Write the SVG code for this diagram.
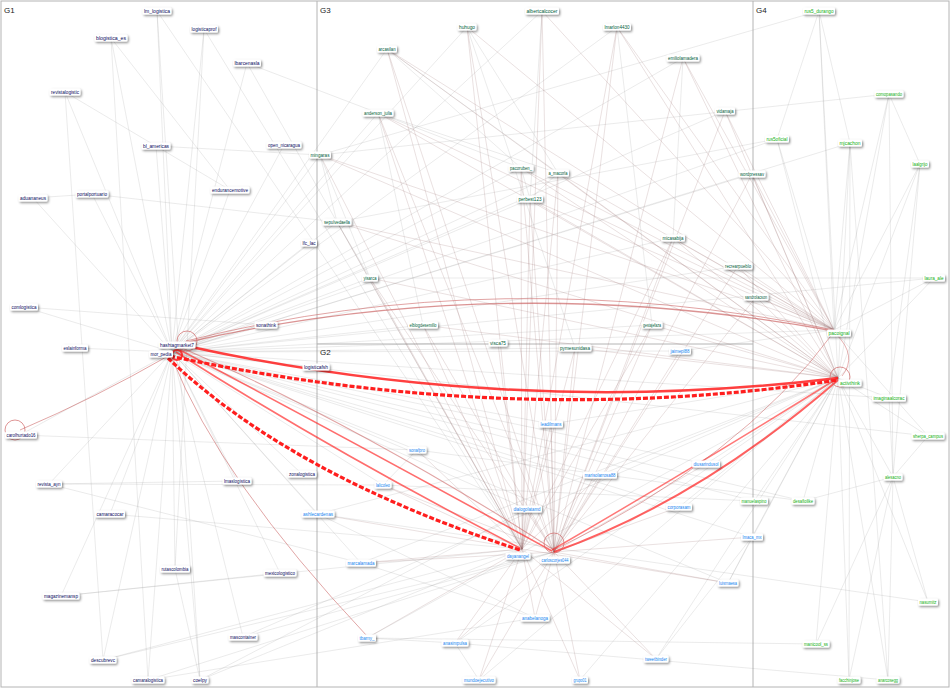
<svg xmlns="http://www.w3.org/2000/svg" width="950" height="688" viewBox="0 0 950 688">
<defs>
<filter id="sh" x="-30%" y="-60%" width="160%" height="240%"><feDropShadow dx="1.2" dy="1.4" stdDeviation="0.9" flood-color="#000" flood-opacity="0.45"/></filter>
</defs>
<style>
.frame{fill:none;stroke:#b4b4b4;stroke-width:1}
.gt{font-family:"Liberation Sans",Arial,sans-serif;font-size:8px;fill:#222}
.e path{fill:none;stroke:#9a9a9a;stroke-opacity:.36;stroke-width:.55}
.r path{fill:none;stroke:#9c7070;stroke-opacity:.36;stroke-width:.6}
.red{fill:none;stroke:#ff1e1e}
.pink{fill:none;stroke:#c85a5a}
.loop{fill:none;stroke:#d06868;stroke-opacity:.7;stroke-width:1}
.n rect{fill:#fff;filter:url(#sh)}
.n text{font-family:"Liberation Sans",Arial,sans-serif;font-size:4.6px;text-anchor:middle}
.g1 text{fill:#0b0b5e}
.g2 text{fill:#1585f0}
.g3 text{fill:#00603a}
.g4 text{fill:#12b012}
</style>
<rect width="950" height="688" fill="#fff"/>
<g id="frames">
<rect class="frame" x="1" y="1" width="948" height="686"/>
<path class="frame" d="M317 1V687M753 1V687M317 344H753"/>
</g>
<g id="connectors">
<g class="e">
<path d="M172 352L157 11"/><path d="M172 352L204 29"/><path d="M172 352L111 38"/><path d="M172 352L247 63"/><path d="M172 352L65 92"/><path d="M172 352L156 146"/><path d="M172 352L284 145"/><path d="M172 352L33 198"/><path d="M172 352L92 194"/><path d="M172 352L230 190"/><path d="M172 352L309 243"/><path d="M172 352L24 307"/><path d="M172 352L75 348"/><path d="M172 352L266 325"/><path d="M172 352L316 367"/><path d="M172 352L20 435"/><path d="M172 352L49 484"/><path d="M172 352L110 514"/><path d="M172 352L237 481"/><path d="M172 352L302 474"/><path d="M172 352L175 569"/><path d="M172 352L280 573"/><path d="M172 352L61 596"/><path d="M172 352L243 637"/><path d="M172 352L103 660"/><path d="M172 352L148 680"/><path d="M172 352L200 680"/>
<path d="M157 11L522 549"/><path d="M204 29L522 549"/><path d="M247 63L522 549"/><path d="M65 92L230 190"/><path d="M247 63L378 113"/><path d="M156 146L320 155"/><path d="M92 194L337 222"/><path d="M49 484L383 485"/><path d="M49 484L361 563"/><path d="M110 514L522 549"/><path d="M61 596L522 549"/><path d="M103 660L522 549"/><path d="M103 660L554 552"/><path d="M148 680L535 618"/><path d="M148 680L554 552"/><path d="M200 680L522 549"/><path d="M200 680L527 509"/><path d="M243 637L554 552"/><path d="M243 637L838 378"/><path d="M175 569L200 680"/><path d="M24 307L266 325"/><path d="M20 435L417 450"/><path d="M33 198L92 194"/><path d="M111 38L230 190"/><path d="M65 92L103 660"/><path d="M111 38L148 680"/><path d="M157 11L200 680"/><path d="M204 29L175 569"/><path d="M280 573L61 596"/><path d="M49 484L237 481"/>
<path d="M172 352L542 11"/><path d="M172 352L467 27"/><path d="M172 352L617 27"/><path d="M172 352L387 49"/><path d="M172 352L683 58"/><path d="M172 352L378 113"/><path d="M172 352L725 111"/><path d="M172 352L320 155"/><path d="M172 352L521 168"/><path d="M172 352L558 173"/><path d="M172 352L752 174"/><path d="M172 352L530 199"/><path d="M172 352L337 222"/><path d="M172 352L673 238"/><path d="M172 352L738 266"/><path d="M172 352L370 278"/><path d="M172 352L423 325"/><path d="M172 352L652 325"/><path d="M172 352L575 348"/>
<path d="M172 352L777 139"/><path d="M172 352L850 143"/><path d="M172 352L934 278"/><path d="M172 352L889 398"/><path d="M172 352L754 501"/><path d="M172 352L803 501"/><path d="M172 352L928 436"/><path d="M172 352L834 330"/>
<path d="M172 352L551 424"/><path d="M172 352L417 450"/><path d="M172 352L383 485"/><path d="M172 352L600 475"/><path d="M172 352L706 464"/><path d="M172 352L527 509"/><path d="M172 352L679 507"/><path d="M172 352L318 514"/><path d="M172 352L361 563"/><path d="M172 352L752 537"/><path d="M172 352L680 351"/><path d="M172 352L728 583"/>
<path d="M387 49L558 173"/><path d="M378 113L558 173"/><path d="M378 113L521 168"/><path d="M467 27L558 173"/><path d="M542 11L530 199"/><path d="M320 155L337 222"/><path d="M521 168L530 199"/><path d="M558 173L530 199"/><path d="M467 27L575 348"/><path d="M683 58L673 238"/><path d="M617 27L652 325"/><path d="M387 49L521 168"/><path d="M320 155L370 278"/><path d="M337 222L370 278"/><path d="M378 113L423 325"/>
<path d="M706 464L838 378"/><path d="M679 507L838 378"/><path d="M752 537L838 378"/><path d="M728 583L838 378"/><path d="M656 659L838 378"/><path d="M600 475L838 378"/><path d="M580 680L838 378"/><path d="M479 680L838 378"/><path d="M455 643L838 378"/><path d="M367 638L838 378"/><path d="M361 563L838 378"/><path d="M318 514L838 378"/><path d="M680 351L834 330"/><path d="M551 424L838 378"/>
<path d="M318 514L535 618"/><path d="M361 563L535 618"/><path d="M367 638L455 643"/><path d="M455 643L479 680"/><path d="M656 659L752 537"/><path d="M728 583L752 537"/><path d="M417 450L383 485"/>
<path d="M819 11L838 378"/><path d="M889 94L838 378"/><path d="M777 139L838 378"/><path d="M850 143L838 378"/><path d="M920 164L838 378"/><path d="M934 278L838 378"/><path d="M889 398L838 378"/><path d="M928 436L838 378"/><path d="M893 477L838 378"/><path d="M754 501L838 378"/><path d="M803 501L838 378"/><path d="M928 602L838 378"/><path d="M816 644L838 378"/><path d="M849 680L838 378"/><path d="M888 680L838 378"/>
<path d="M819 11L834 330"/><path d="M889 94L834 330"/><path d="M777 139L834 330"/><path d="M850 143L834 330"/><path d="M920 164L834 330"/><path d="M934 278L834 330"/><path d="M928 436L834 330"/>
<path d="M893 477L928 602"/><path d="M893 477L816 644"/><path d="M893 477L849 680"/><path d="M893 477L888 680"/><path d="M889 398L893 477"/><path d="M928 436L893 477"/><path d="M803 501L893 477"/><path d="M850 143L819 11"/><path d="M777 139L819 11"/><path d="M889 94L920 164"/><path d="M920 164L889 398"/><path d="M920 164L893 477"/><path d="M889 94L893 477"/><path d="M850 143L849 680"/><path d="M850 143L888 680"/>
<path d="M819 11L320 155"/><path d="M889 94L320 155"/><path d="M777 139L337 222"/><path d="M934 278L370 278"/><path d="M754 501L383 485"/><path d="M803 501L417 450"/><path d="M928 602L318 514"/><path d="M816 644L367 638"/><path d="M888 680L455 643"/>
</g>
<g class="r">
<path d="M542 11L554 552"/><path d="M542 11L522 549"/><path d="M467 27L522 549"/><path d="M467 27L554 552"/><path d="M617 27L554 552"/><path d="M617 27L522 549"/><path d="M387 49L522 549"/><path d="M387 49L554 552"/><path d="M683 58L554 552"/><path d="M378 113L522 549"/><path d="M378 113L554 552"/><path d="M725 111L554 552"/><path d="M320 155L522 549"/><path d="M521 168L522 549"/><path d="M521 168L554 552"/><path d="M558 173L522 549"/><path d="M558 173L554 552"/><path d="M752 174L554 552"/><path d="M530 199L522 549"/><path d="M530 199L554 552"/><path d="M337 222L522 549"/><path d="M673 238L554 552"/><path d="M673 238L522 549"/><path d="M738 266L554 552"/><path d="M370 278L522 549"/><path d="M370 278L554 552"/><path d="M756 297L554 552"/><path d="M423 325L522 549"/><path d="M423 325L554 552"/><path d="M652 325L554 552"/><path d="M652 325L522 549"/><path d="M498 343L522 549"/><path d="M575 348L554 552"/><path d="M575 348L522 549"/>
<path d="M542 11L834 330"/><path d="M467 27L834 330"/><path d="M617 27L834 330"/><path d="M617 27L838 378"/><path d="M387 49L838 378"/><path d="M387 49L834 330"/><path d="M683 58L834 330"/><path d="M683 58L838 378"/><path d="M378 113L834 330"/><path d="M378 113L838 378"/><path d="M725 111L834 330"/><path d="M725 111L838 378"/><path d="M320 155L834 330"/><path d="M320 155L838 378"/><path d="M521 168L834 330"/><path d="M521 168L838 378"/><path d="M558 173L834 330"/><path d="M558 173L838 378"/><path d="M752 174L834 330"/><path d="M752 174L838 378"/><path d="M530 199L838 378"/><path d="M530 199L834 330"/><path d="M337 222L834 330"/><path d="M337 222L838 378"/><path d="M673 238L834 330"/><path d="M673 238L838 378"/><path d="M738 266L834 330"/><path d="M738 266L838 378"/><path d="M370 278L838 378"/><path d="M756 297L838 378"/><path d="M756 297L834 330"/><path d="M652 325L838 378"/><path d="M575 348L838 378"/><path d="M423 325L838 378"/>
<path d="M680 351L554 552"/><path d="M551 424L522 549"/><path d="M551 424L554 552"/><path d="M417 450L522 549"/><path d="M383 485L522 549"/><path d="M383 485L554 552"/><path d="M600 475L554 552"/><path d="M600 475L522 549"/><path d="M706 464L554 552"/><path d="M527 509L522 549"/><path d="M527 509L554 552"/><path d="M679 507L554 552"/><path d="M318 514L522 549"/><path d="M361 563L522 549"/><path d="M361 563L554 552"/><path d="M752 537L554 552"/><path d="M728 583L554 552"/><path d="M728 583L522 549"/><path d="M535 618L522 549"/><path d="M535 618L554 552"/><path d="M367 638L522 549"/><path d="M455 643L554 552"/><path d="M455 643L522 549"/><path d="M479 680L554 552"/><path d="M479 680L522 549"/><path d="M580 680L554 552"/><path d="M580 680L522 549"/><path d="M656 659L554 552"/><path d="M656 659L522 549"/>
</g>
<g id="red-edges">
<path class="pink" stroke-width="0.9" stroke-opacity="0.6" d="M168 356Q95 398 20 430"/>
<path class="pink" stroke-width="0.9" stroke-opacity="0.6" d="M172 358Q220 480 367 636"/>
<path class="pink" stroke-width="1.4" stroke-opacity="0.65" d="M184 343Q500 270 834 331"/>
<path class="pink" stroke-width="1" stroke-opacity="0.55" d="M186 341Q500 262 834 330"/>
<path class="pink" stroke-width="1.1" stroke-opacity="0.55" d="M182 348Q360 425 554 550"/>
<path class="red" stroke-width="1.6" stroke-opacity="0.65" d="M180 350Q350 440 552 551"/>
<path class="red" stroke-width="1.6" stroke-opacity="0.65" d="M176 352Q330 450 520 548"/>
<path class="red" stroke-width="3.2" stroke-dasharray="5 2" d="M168 358Q290 475 520 550"/>
<path class="red" stroke-width="2.5" stroke-opacity="0.85" d="M182 345Q512 418 838 378"/>
<path class="red" stroke-width="3.2" stroke-dasharray="5 2" d="M170 356Q512 429 838 380"/>
<path class="red" stroke-width="2" stroke-opacity="0.7" d="M554 552Q700 500 838 380"/>
<path class="red" stroke-width="1.5" stroke-opacity="0.6" d="M552 550Q690 470 838 378"/>
<path class="pink" stroke-width="1" stroke-opacity="0.5" d="M834 332Q740 460 554 550"/>
<path class="pink" stroke-width="0.8" stroke-opacity="0.6" d="M836 334Q858 356 842 376"/>
</g>
<g id="self-loops">
<circle class="loop" cx="187" cy="341" r="10"/>
<circle class="loop" cx="15" cy="430" r="10"/>
<circle class="loop" cx="840" cy="377" r="10"/>
<circle class="loop" cx="554" cy="543" r="10"/>
<circle class="red" cx="177" cy="355" r="5" stroke-width="2.2" stroke-opacity="0.85"/>
</g>
</g>
<g id="nodes">
<g id="n-lm_logistica" class="n g1" transform="translate(157 11)"><rect x="-14.5" y="-3.5" width="29" height="7" rx="1.5"/><text y="1.6" textLength="26" lengthAdjust="spacingAndGlyphs">lm_logistica</text></g>
<g id="n-logisticaprof" class="n g1" transform="translate(204 29)"><rect x="-14" y="-3.5" width="28" height="7" rx="1.5"/><text y="1.6" textLength="25" lengthAdjust="spacingAndGlyphs">logisticaprof</text></g>
<g id="n-blogistica_es" class="n g1" transform="translate(111 38)"><rect x="-16.5" y="-3.5" width="33" height="7" rx="1.5"/><text y="1.6" textLength="30" lengthAdjust="spacingAndGlyphs">blogistica_es</text></g>
<g id="n-lbarcenasla" class="n g1" transform="translate(247 63)"><rect x="-14" y="-3.5" width="28" height="7" rx="1.5"/><text y="1.6" textLength="25" lengthAdjust="spacingAndGlyphs">lbarcenasla</text></g>
<g id="n-revistalogistic" class="n g1" transform="translate(65 92)"><rect x="-15.5" y="-3.5" width="31" height="7" rx="1.5"/><text y="1.6" textLength="28" lengthAdjust="spacingAndGlyphs">revistalogistic</text></g>
<g id="n-bl_americas" class="n g1" transform="translate(156 146)"><rect x="-14.5" y="-3.5" width="29" height="7" rx="1.5"/><text y="1.6" textLength="26" lengthAdjust="spacingAndGlyphs">bl_americas</text></g>
<g id="n-open_nicaragua" class="n g1" transform="translate(284 145)"><rect x="-17.5" y="-3.5" width="35" height="7" rx="1.5"/><text y="1.6" textLength="32" lengthAdjust="spacingAndGlyphs">open_nicaragua</text></g>
<g id="n-aduananeus" class="n g1" transform="translate(33 198)"><rect x="-14.5" y="-3.5" width="29" height="7" rx="1.5"/><text y="1.6" textLength="26" lengthAdjust="spacingAndGlyphs">aduananeus</text></g>
<g id="n-portalportuario" class="n g1" transform="translate(92 194)"><rect x="-16.5" y="-3.5" width="33" height="7" rx="1.5"/><text y="1.6" textLength="30" lengthAdjust="spacingAndGlyphs">portalportuario</text></g>
<g id="n-endurancemotive" class="n g1" transform="translate(230 190)"><rect x="-19.5" y="-3.5" width="39" height="7" rx="1.5"/><text y="1.6" textLength="36" lengthAdjust="spacingAndGlyphs">endurancemotive</text></g>
<g id="n-lfc_lac" class="n g1" transform="translate(309 243)"><rect x="-8" y="-3.5" width="16" height="7" rx="1.5"/><text y="1.6" textLength="13" lengthAdjust="spacingAndGlyphs">lfc_lac</text></g>
<g id="n-comlogistica" class="n g1" transform="translate(24 307)"><rect x="-14" y="-3.5" width="28" height="7" rx="1.5"/><text y="1.6" textLength="25" lengthAdjust="spacingAndGlyphs">comlogistica</text></g>
<g id="n-eslainforma" class="n g1" transform="translate(75 348)"><rect x="-13" y="-3.5" width="26" height="7" rx="1.5"/><text y="1.6" textLength="23" lengthAdjust="spacingAndGlyphs">eslainforma</text></g>
<g id="n-hashtagmarket7" class="n g1" transform="translate(177 345)"><rect x="-18.5" y="-3.5" width="37" height="7" rx="1.5"/><text y="1.6" textLength="34" lengthAdjust="spacingAndGlyphs">hashtagmarket7</text></g>
<g id="n-mor_pedia" class="n g1" transform="translate(161 354)"><rect x="-12" y="-3.5" width="24" height="7" rx="1.5"/><text y="1.6" textLength="21" lengthAdjust="spacingAndGlyphs">mor_pedia</text></g>
<g id="n-sonathink" class="n g1" transform="translate(266 325)"><rect x="-11.5" y="-3.5" width="23" height="7" rx="1.5"/><text y="1.6" textLength="20" lengthAdjust="spacingAndGlyphs">sonathink</text></g>
<g id="n-logisticafsh" class="n g1" transform="translate(316 367)"><rect x="-13.5" y="-3.5" width="27" height="7" rx="1.5"/><text y="1.6" textLength="24" lengthAdjust="spacingAndGlyphs">logisticafsh</text></g>
<g id="n-carolhurtado16" class="n g1" transform="translate(21 435)"><rect x="-16" y="-3.5" width="32" height="7" rx="1.5"/><text y="1.6" textLength="29" lengthAdjust="spacingAndGlyphs">carolhurtado16</text></g>
<g id="n-revista_ayn" class="n g1" transform="translate(49 484)"><rect x="-13" y="-3.5" width="26" height="7" rx="1.5"/><text y="1.6" textLength="23" lengthAdjust="spacingAndGlyphs">revista_ayn</text></g>
<g id="n-camaracocar" class="n g1" transform="translate(110 514)"><rect x="-15" y="-3.5" width="30" height="7" rx="1.5"/><text y="1.6" textLength="27" lengthAdjust="spacingAndGlyphs">camaracocar</text></g>
<g id="n-lmaslogistica" class="n g1" transform="translate(237 481)"><rect x="-14.5" y="-3.5" width="29" height="7" rx="1.5"/><text y="1.6" textLength="26" lengthAdjust="spacingAndGlyphs">lmaslogistica</text></g>
<g id="n-zonalogistica" class="n g1" transform="translate(302 474)"><rect x="-14.5" y="-3.5" width="29" height="7" rx="1.5"/><text y="1.6" textLength="26" lengthAdjust="spacingAndGlyphs">zonalogistica</text></g>
<g id="n-rutascolombia" class="n g1" transform="translate(175 569)"><rect x="-15" y="-3.5" width="30" height="7" rx="1.5"/><text y="1.6" textLength="27" lengthAdjust="spacingAndGlyphs">rutascolombia</text></g>
<g id="n-mexicologistico" class="n g1" transform="translate(280 573)"><rect x="-16.5" y="-3.5" width="33" height="7" rx="1.5"/><text y="1.6" textLength="30" lengthAdjust="spacingAndGlyphs">mexicologistico</text></g>
<g id="n-magazinemansp" class="n g1" transform="translate(61 596)"><rect x="-18.5" y="-3.5" width="37" height="7" rx="1.5"/><text y="1.6" textLength="34" lengthAdjust="spacingAndGlyphs">magazinemansp</text></g>
<g id="n-mascontainer" class="n g1" transform="translate(243 637)"><rect x="-14.5" y="-3.5" width="29" height="7" rx="1.5"/><text y="1.6" textLength="26" lengthAdjust="spacingAndGlyphs">mascontainer</text></g>
<g id="n-descubrevc" class="n g1" transform="translate(103 660)"><rect x="-13.5" y="-3.5" width="27" height="7" rx="1.5"/><text y="1.6" textLength="24" lengthAdjust="spacingAndGlyphs">descubrevc</text></g>
<g id="n-camaralogistica" class="n g1" transform="translate(148 680)"><rect x="-16.5" y="-3.5" width="33" height="7" rx="1.5"/><text y="1.6" textLength="30" lengthAdjust="spacingAndGlyphs">camaralogistica</text></g>
<g id="n-coelpy" class="n g1" transform="translate(200 680)"><rect x="-8.5" y="-3.5" width="17" height="7" rx="1.5"/><text y="1.6" textLength="14" lengthAdjust="spacingAndGlyphs">coelpy</text></g>

<g id="n-albercalcocer" class="n g3" transform="translate(542 11)"><rect x="-17" y="-3.5" width="34" height="7" rx="1.5"/><text y="1.6" textLength="31" lengthAdjust="spacingAndGlyphs">albertcalcocer</text></g>
<g id="n-huhugo" class="n g3" transform="translate(467 27)"><rect x="-9.5" y="-3.5" width="19" height="7" rx="1.5"/><text y="1.6" textLength="16" lengthAdjust="spacingAndGlyphs">huhugo</text></g>
<g id="n-lmarlon4430" class="n g3" transform="translate(617 27)"><rect x="-14" y="-3.5" width="28" height="7" rx="1.5"/><text y="1.6" textLength="25" lengthAdjust="spacingAndGlyphs">lmarlon4430</text></g>
<g id="n-arcasilan" class="n g3" transform="translate(387 49)"><rect x="-10" y="-3.5" width="20" height="7" rx="1.5"/><text y="1.6" textLength="17" lengthAdjust="spacingAndGlyphs">arcasilan</text></g>
<g id="n-emiliolamadera" class="n g3" transform="translate(683 58)"><rect x="-16.5" y="-3.5" width="33" height="7" rx="1.5"/><text y="1.6" textLength="30" lengthAdjust="spacingAndGlyphs">emiliolamadera</text></g>
<g id="n-anderson_julia" class="n g3" transform="translate(378 113)"><rect x="-15.5" y="-3.5" width="31" height="7" rx="1.5"/><text y="1.6" textLength="28" lengthAdjust="spacingAndGlyphs">anderson_julia</text></g>
<g id="n-vidamaja" class="n g3" transform="translate(725 111)"><rect x="-10" y="-3.5" width="20" height="7" rx="1.5"/><text y="1.6" textLength="17" lengthAdjust="spacingAndGlyphs">vidamaja</text></g>
<g id="n-mingaras" class="n g3" transform="translate(320 155)"><rect x="-11" y="-3.5" width="22" height="7" rx="1.5"/><text y="1.6" textLength="19" lengthAdjust="spacingAndGlyphs">mingaras</text></g>
<g id="n-pacoruben_" class="n g3" transform="translate(521 168)"><rect x="-12.5" y="-3.5" width="25" height="7" rx="1.5"/><text y="1.6" textLength="22" lengthAdjust="spacingAndGlyphs">pacoruben_</text></g>
<g id="n-a_macorla" class="n g3" transform="translate(558 173)"><rect x="-11" y="-3.5" width="22" height="7" rx="1.5"/><text y="1.6" textLength="19" lengthAdjust="spacingAndGlyphs">a_macorla</text></g>
<g id="n-wordpressav" class="n g3" transform="translate(752 174)"><rect x="-13.5" y="-3.5" width="27" height="7" rx="1.5"/><text y="1.6" textLength="24" lengthAdjust="spacingAndGlyphs">wordpressav</text></g>
<g id="n-perbest123" class="n g3" transform="translate(530 199)"><rect x="-13" y="-3.5" width="26" height="7" rx="1.5"/><text y="1.6" textLength="23" lengthAdjust="spacingAndGlyphs">perbest123</text></g>
<g id="n-sepulvedaella" class="n g3" transform="translate(337 222)"><rect x="-14.5" y="-3.5" width="29" height="7" rx="1.5"/><text y="1.6" textLength="26" lengthAdjust="spacingAndGlyphs">sepulvedaella</text></g>
<g id="n-micasabija" class="n g3" transform="translate(673 238)"><rect x="-12" y="-3.5" width="24" height="7" rx="1.5"/><text y="1.6" textLength="21" lengthAdjust="spacingAndGlyphs">micasabija</text></g>
<g id="n-recrearpueblo" class="n g3" transform="translate(738 266)"><rect x="-14.5" y="-3.5" width="29" height="7" rx="1.5"/><text y="1.6" textLength="26" lengthAdjust="spacingAndGlyphs">recrearpueblo</text></g>
<g id="n-yisarca" class="n g3" transform="translate(370 278)"><rect x="-8" y="-3.5" width="16" height="7" rx="1.5"/><text y="1.6" textLength="13" lengthAdjust="spacingAndGlyphs">yisarca</text></g>
<g id="n-sandrolacson" class="n g3" transform="translate(756 297)"><rect x="-12.5" y="-3.5" width="25" height="7" rx="1.5"/><text y="1.6" textLength="22" lengthAdjust="spacingAndGlyphs">sandrolacson</text></g>
<g id="n-elblogdesemillo" class="n g3" transform="translate(423 325)"><rect x="-15" y="-3.5" width="30" height="7" rx="1.5"/><text y="1.6" textLength="27" lengthAdjust="spacingAndGlyphs">elblogdesemillo</text></g>
<g id="n-gestajefaza" class="n g3" transform="translate(652 325)"><rect x="-10.5" y="-3.5" width="21" height="7" rx="1.5"/><text y="1.6" textLength="18" lengthAdjust="spacingAndGlyphs">gestajefaza</text></g>
<g id="n-visca75" class="n g3" transform="translate(498 343)"><rect x="-9.5" y="-3.5" width="19" height="7" rx="1.5"/><text y="1.6" textLength="16" lengthAdjust="spacingAndGlyphs">visca75</text></g>
<g id="n-pymesunidasa" class="n g3" transform="translate(575 348)"><rect x="-16.5" y="-3.5" width="33" height="7" rx="1.5"/><text y="1.6" textLength="30" lengthAdjust="spacingAndGlyphs">pymesunidasa</text></g>

<g id="n-jaimepl88" class="n g2" transform="translate(680 351)"><rect x="-11" y="-3.5" width="22" height="7" rx="1.5"/><text y="1.6" textLength="19" lengthAdjust="spacingAndGlyphs">jaimepl88</text></g>
<g id="n-leadilmans" class="n g2" transform="translate(551 424)"><rect x="-12" y="-3.5" width="24" height="7" rx="1.5"/><text y="1.6" textLength="21" lengthAdjust="spacingAndGlyphs">leadilmans</text></g>
<g id="n-sonafpro" class="n g2" transform="translate(417 450)"><rect x="-9.5" y="-3.5" width="19" height="7" rx="1.5"/><text y="1.6" textLength="16" lengthAdjust="spacingAndGlyphs">sonafpro</text></g>
<g id="n-lalicoleo" class="n g2" transform="translate(383 485)"><rect x="-8.5" y="-3.5" width="17" height="7" rx="1.5"/><text y="1.6" textLength="14" lengthAdjust="spacingAndGlyphs">lalicoleo</text></g>
<g id="n-marisolarrosa88" class="n g2" transform="translate(600 475)"><rect x="-17" y="-3.5" width="34" height="7" rx="1.5"/><text y="1.6" textLength="31" lengthAdjust="spacingAndGlyphs">marisolarrosa88</text></g>
<g id="n-diusarindusol" class="n g2" transform="translate(706 464)"><rect x="-14" y="-3.5" width="28" height="7" rx="1.5"/><text y="1.6" textLength="25" lengthAdjust="spacingAndGlyphs">diusarindusol</text></g>
<g id="n-dialogolatamd" class="n g2" transform="translate(527 509)"><rect x="-15" y="-3.5" width="30" height="7" rx="1.5"/><text y="1.6" textLength="27" lengthAdjust="spacingAndGlyphs">dialogolatamd</text></g>
<g id="n-corporasam" class="n g2" transform="translate(679 507)"><rect x="-13" y="-3.5" width="26" height="7" rx="1.5"/><text y="1.6" textLength="23" lengthAdjust="spacingAndGlyphs">corporasam</text></g>
<g id="n-ashlecardenas" class="n g2" transform="translate(318 514)"><rect x="-16.5" y="-3.5" width="33" height="7" rx="1.5"/><text y="1.6" textLength="30" lengthAdjust="spacingAndGlyphs">ashlecardenas</text></g>
<g id="n-dayanangel" class="n g2" transform="translate(518 556)"><rect x="-12.5" y="-3.5" width="25" height="7" rx="1.5"/><text y="1.6" textLength="22" lengthAdjust="spacingAndGlyphs">dayanangel</text></g>
<g id="n-carloscorjes044" class="n g2" transform="translate(555 560)"><rect x="-15" y="-3.5" width="30" height="7" rx="1.5"/><text y="1.6" textLength="27" lengthAdjust="spacingAndGlyphs">carloscorjes044</text></g>
<g id="n-marcalamada" class="n g2" transform="translate(361 563)"><rect x="-15" y="-3.5" width="30" height="7" rx="1.5"/><text y="1.6" textLength="27" lengthAdjust="spacingAndGlyphs">marcalamada</text></g>
<g id="n-lmaca_mx" class="n g2" transform="translate(752 537)"><rect x="-11" y="-3.5" width="22" height="7" rx="1.5"/><text y="1.6" textLength="19" lengthAdjust="spacingAndGlyphs">lmaca_mx</text></g>
<g id="n-luisrnaesa" class="n g2" transform="translate(728 583)"><rect x="-10.5" y="-3.5" width="21" height="7" rx="1.5"/><text y="1.6" textLength="18" lengthAdjust="spacingAndGlyphs">luisrnaesa</text></g>
<g id="n-anabelanoga" class="n g2" transform="translate(535 618)"><rect x="-14.5" y="-3.5" width="29" height="7" rx="1.5"/><text y="1.6" textLength="26" lengthAdjust="spacingAndGlyphs">anabelanoga</text></g>
<g id="n-tbarny_" class="n g2" transform="translate(367 638)"><rect x="-9" y="-3.5" width="18" height="7" rx="1.5"/><text y="1.6" textLength="15" lengthAdjust="spacingAndGlyphs">tbarny_</text></g>
<g id="n-anasimpulsa" class="n g2" transform="translate(455 643)"><rect x="-13.5" y="-3.5" width="27" height="7" rx="1.5"/><text y="1.6" textLength="24" lengthAdjust="spacingAndGlyphs">anasimpulsa</text></g>
<g id="n-mundoejecutivo" class="n g2" transform="translate(479 680)"><rect x="-16.5" y="-3.5" width="33" height="7" rx="1.5"/><text y="1.6" textLength="30" lengthAdjust="spacingAndGlyphs">mundoejecutivo</text></g>
<g id="n-grupo01" class="n g2" transform="translate(580 680)"><rect x="-8" y="-3.5" width="16" height="7" rx="1.5"/><text y="1.6" textLength="13" lengthAdjust="spacingAndGlyphs">grupo01</text></g>
<g id="n-tweetbinder" class="n g2" transform="translate(656 659)"><rect x="-12.5" y="-3.5" width="25" height="7" rx="1.5"/><text y="1.6" textLength="22" lengthAdjust="spacingAndGlyphs">tweetbinder</text></g>

<g id="n-rus5_durango" class="n g4" transform="translate(819 11)"><rect x="-16" y="-3.5" width="32" height="7" rx="1.5"/><text y="1.6" textLength="29" lengthAdjust="spacingAndGlyphs">rus5_durango</text></g>
<g id="n-comopasando" class="n g4" transform="translate(889 94)"><rect x="-14.5" y="-3.5" width="29" height="7" rx="1.5"/><text y="1.6" textLength="26" lengthAdjust="spacingAndGlyphs">comopasando</text></g>
<g id="n-rus5oficial" class="n g4" transform="translate(777 139)"><rect x="-12" y="-3.5" width="24" height="7" rx="1.5"/><text y="1.6" textLength="21" lengthAdjust="spacingAndGlyphs">rus5oficial</text></g>
<g id="n-mjcachon" class="n g4" transform="translate(850 143)"><rect x="-12" y="-3.5" width="24" height="7" rx="1.5"/><text y="1.6" textLength="21" lengthAdjust="spacingAndGlyphs">mjcachon</text></g>
<g id="n-laalgrijo" class="n g4" transform="translate(920 164)"><rect x="-9" y="-3.5" width="18" height="7" rx="1.5"/><text y="1.6" textLength="15" lengthAdjust="spacingAndGlyphs">laalgrijo</text></g>
<g id="n-laura_ale" class="n g4" transform="translate(934 278)"><rect x="-11" y="-3.5" width="22" height="7" rx="1.5"/><text y="1.6" textLength="19" lengthAdjust="spacingAndGlyphs">laura_ale</text></g>
<g id="n-pacoignal" class="n g4" transform="translate(839 333)"><rect x="-12" y="-3.5" width="24" height="7" rx="1.5"/><text y="1.6" textLength="21" lengthAdjust="spacingAndGlyphs">pacoignal</text></g>
<g id="n-activthink" class="n g4" transform="translate(850 383)"><rect x="-11.5" y="-3.5" width="23" height="7" rx="1.5"/><text y="1.6" textLength="20" lengthAdjust="spacingAndGlyphs">activthink</text></g>
<g id="n-imaginaalcorac" class="n g4" transform="translate(889 398)"><rect x="-17" y="-3.5" width="34" height="7" rx="1.5"/><text y="1.6" textLength="31" lengthAdjust="spacingAndGlyphs">imaginaalcorac</text></g>
<g id="n-sherpa_campus" class="n g4" transform="translate(928 436)"><rect x="-16.5" y="-3.5" width="33" height="7" rx="1.5"/><text y="1.6" textLength="30" lengthAdjust="spacingAndGlyphs">sherpa_campus</text></g>
<g id="n-alesacno" class="n g4" transform="translate(893 477)"><rect x="-9.5" y="-3.5" width="19" height="7" rx="1.5"/><text y="1.6" textLength="16" lengthAdjust="spacingAndGlyphs">alesacno</text></g>
<g id="n-manuelaspino" class="n g4" transform="translate(754 501)"><rect x="-14" y="-3.5" width="28" height="7" rx="1.5"/><text y="1.6" textLength="25" lengthAdjust="spacingAndGlyphs">manuelaspino</text></g>
<g id="n-desafiolike" class="n g4" transform="translate(803 501)"><rect x="-11.5" y="-3.5" width="23" height="7" rx="1.5"/><text y="1.6" textLength="20" lengthAdjust="spacingAndGlyphs">desafiolike</text></g>
<g id="n-nasumitz" class="n g4" transform="translate(928 602)"><rect x="-10" y="-3.5" width="20" height="7" rx="1.5"/><text y="1.6" textLength="17" lengthAdjust="spacingAndGlyphs">nasumitz</text></g>
<g id="n-manicool_ss" class="n g4" transform="translate(816 644)"><rect x="-13.5" y="-3.5" width="27" height="7" rx="1.5"/><text y="1.6" textLength="24" lengthAdjust="spacingAndGlyphs">manicool_ss</text></g>
<g id="n-facchinjose" class="n g4" transform="translate(849 680)"><rect x="-11.5" y="-3.5" width="23" height="7" rx="1.5"/><text y="1.6" textLength="20" lengthAdjust="spacingAndGlyphs">facchinjose</text></g>
<g id="n-anarcosegg" class="n g4" transform="translate(888 680)"><rect x="-11.5" y="-3.5" width="23" height="7" rx="1.5"/><text y="1.6" textLength="20" lengthAdjust="spacingAndGlyphs">anarcosegg</text></g>
</g>
<g id="group-titles">
<text class="gt" x="4" y="12.5">G1</text>
<text class="gt" x="320" y="12.5">G3</text>
<text class="gt" x="320" y="355">G2</text>
<text class="gt" x="756" y="12.5">G4</text>
</g>
</svg>
